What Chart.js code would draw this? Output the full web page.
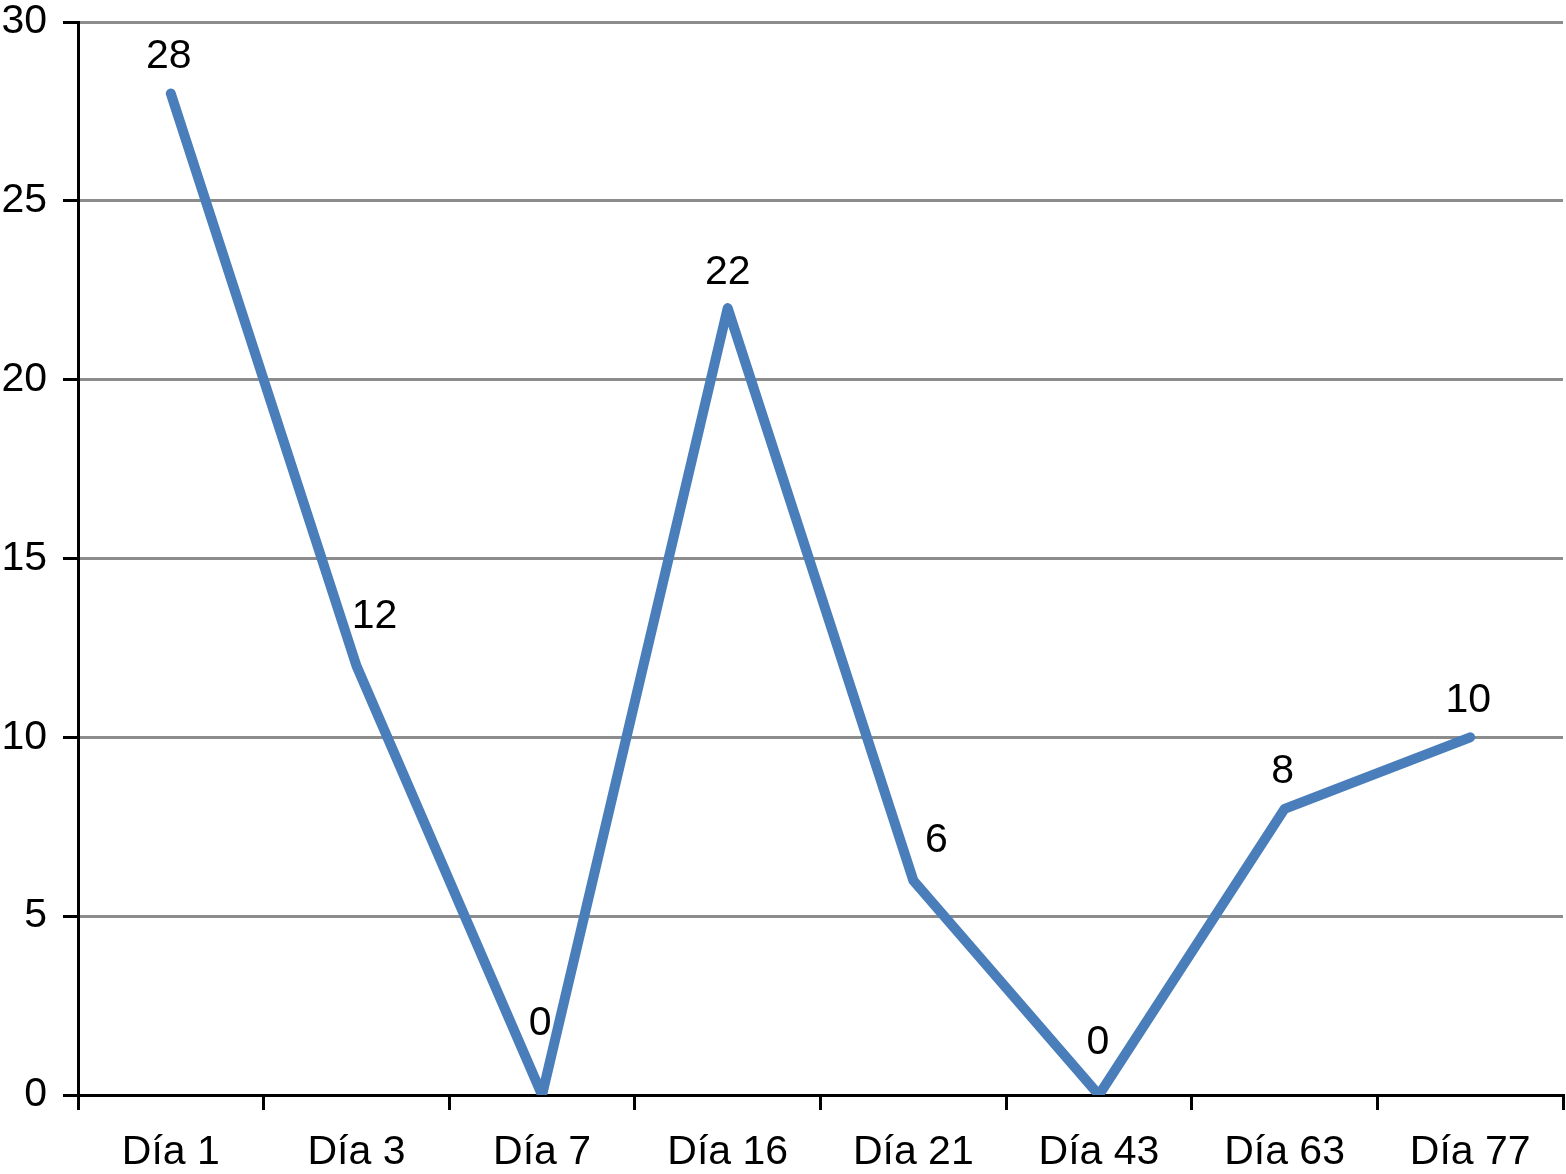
<!DOCTYPE html>
<html>
<head>
<meta charset="utf-8">
<script src="https://cdn.jsdelivr.net/npm/chart.js@4/dist/chart.umd.min.js"></script>
<style>
  html, body { margin: 0; padding: 0; background: #fff; }
  #wrap { width: 1566px; height: 1174px; }
</style>
</head>
<body>
<div id="wrap"><canvas id="chart"></canvas></div>
<script>
// Data
const categories = ["Día 1", "Día 3", "Día 7", "Día 16", "Día 21", "Día 43", "Día 63", "Día 77"];
const values = [28, 12, 0, 22, 6, 0, 8, 10];
const yTicks = [0, 5, 10, 15, 20, 25, 30];

// label nudges (dx, dy) to mimic the original placement
const labelNudge = [[-2, -37], [18, -49], [-2, -71], [0, -35], [23, -40], [-1, -52], [-2, -37], [-2, -37]];

const FONT = "'Liberation Sans', Arial, Helvetica, sans-serif";
const FONT_SIZE = 41;

const dataLabels = {
  id: "dataLabels",
  afterDatasetsDraw(chart) {
    const ctx = chart.ctx;
    const meta = chart.getDatasetMeta(0);
    ctx.save();
    ctx.font = FONT_SIZE + "px " + FONT;
    ctx.fillStyle = "#000";
    ctx.textAlign = "center";
    ctx.textBaseline = "middle";
    meta.data.forEach((pt, i) => {
      const n = labelNudge[i] || [0, -37];
      ctx.fillText(String(values[i]), pt.x + n[0], pt.y + n[1]);
    });
    ctx.restore();
  },
};

new Chart(document.getElementById("chart"), {
  type: "line",
  data: {
    labels: categories,
    datasets: [
      {
        data: values,
        borderColor: "#4a7ebb",
        borderWidth: 10,
        pointRadius: 0,
        tension: 0,
        borderCapStyle: "round",
        borderJoinStyle: "round",
      },
    ],
  },
  options: {
    responsive: true,
    maintainAspectRatio: false,
    animation: false,
    layout: { padding: { top: 22, right: 3, bottom: 0, left: 0 } },
    plugins: { legend: { display: false }, tooltip: { enabled: false } },
    scales: {
      x: {
        offset: true,
        grid: {
          offset: true,
          drawOnChartArea: false,
          tickLength: 15,
          tickColor: "#000",
          lineWidth: 3,
        },
        border: { color: "#000", width: 3 },
        ticks: { color: "#000", font: { size: FONT_SIZE, family: FONT }, padding: 18, maxRotation: 0 },
        afterFit: (axis) => {
          axis.height = 79;
          axis.paddingLeft = 0;
          axis.paddingRight = 0;
        },
      },
      y: {
        min: 0,
        max: 30,
        afterBuildTicks: (axis) => {
          axis.ticks = yTicks.map((v) => ({ value: v }));
        },
        grid: {
          color: "#8c8c8c",
          lineWidth: 3,
          tickLength: 15,
          tickColor: "#000",
        },
        border: { color: "#000", width: 3 },
        ticks: { color: "#000", font: { size: FONT_SIZE, family: FONT }, padding: 16 },
        afterFit: (axis) => {
          axis.width = 78;
          axis.paddingTop = 0;
          axis.paddingBottom = 0;
        },
      },
    },
  },
  plugins: [dataLabels],
});
</script>
</body>
</html>
